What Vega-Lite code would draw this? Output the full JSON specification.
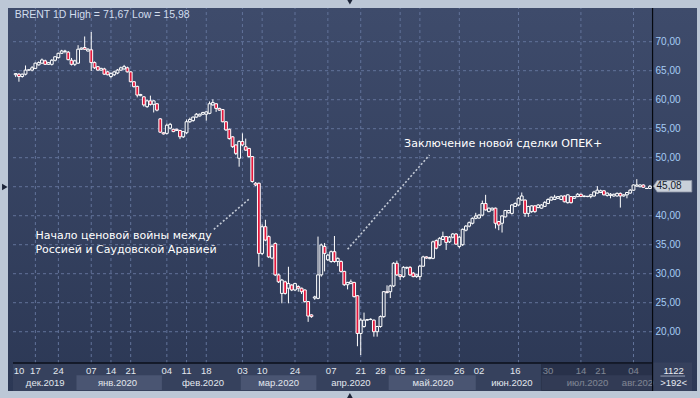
{
  "$schema": "https://vega.github.io/schema/vega-lite/v6.json",
  "width": 689,
  "height": 383,
  "autosize": "none",
  "padding": {"left": 8, "top": 8, "right": 3, "bottom": 7},
  "background": "#bcc7d6",
  "config": {
    "view": {"stroke": null, "fill": {"gradient": "linear", "x1": 0, "y1": 0, "x2": 0, "y2": 1, "stops": [{"offset": 0, "color": "#3e4b6b"}, {"offset": 1, "color": "#2c3855"}]}},
    "text": {"font": "Liberation Sans"}
  },
  "datasets": {
    "candles": [
      {"i":0,"o":64.3,"h":64.6,"l":63.9,"c":64.5},{"i":1,"o":64.4,"h":64.6,"l":63.1,"c":64.0},{"i":2,"o":64.0,"h":64.5,"l":63.8,"c":64.4},{"i":3,"o":64.4,"h":65.9,"l":64.2,"c":65.1},{"i":4,"o":65.1,"h":65.2,"l":65.0,"c":65.15},{"i":5,"o":65.1,"h":65.8,"l":64.9,"c":65.5},{"i":6,"o":65.4,"h":66.4,"l":65.3,"c":66.3},{"i":7,"o":66.0,"h":66.6,"l":65.9,"c":66.4},{"i":8,"o":66.3,"h":67.1,"l":66.2,"c":66.85},{"i":9,"o":66.7,"h":66.9,"l":66.0,"c":66.1},
      {"i":10,"o":66.1,"h":66.5,"l":66.0,"c":66.4},{"i":11,"o":66.1,"h":67.0,"l":65.9,"c":66.8},{"i":12,"o":66.8,"h":67.5,"l":66.6,"c":67.4},{"i":13,"o":67.25,"h":68.1,"l":67.1,"c":68.0},{"i":14,"o":68.0,"h":68.6,"l":67.9,"c":68.4},{"i":15,"o":68.3,"h":68.6,"l":68.0,"c":68.4},{"i":16,"o":68.2,"h":68.4,"l":66.8,"c":66.9},{"i":17,"o":66.8,"h":67.2,"l":65.9,"c":66.1},{"i":18,"o":66.1,"h":66.9,"l":65.8,"c":66.7},{"i":19,"o":66.3,"h":69.4,"l":66.2,"c":68.7},
      {"i":20,"o":68.7,"h":69.0,"l":68.6,"c":68.9},{"i":21,"o":69.0,"h":70.9,"l":68.6,"c":68.7},{"i":22,"o":68.4,"h":68.9,"l":68.3,"c":68.7},{"i":23,"o":68.6,"h":71.67,"l":64.95,"c":66.4},{"i":24,"o":66.4,"h":66.6,"l":65.3,"c":65.5},{"i":25,"o":65.7,"h":65.8,"l":65.0,"c":65.1},{"i":26,"o":65.1,"h":65.5,"l":65.0,"c":65.4},{"i":27,"o":65.3,"h":65.5,"l":64.3,"c":64.4},{"i":28,"o":64.8,"h":65.0,"l":64.2,"c":64.3},{"i":29,"o":64.0,"h":64.7,"l":63.7,"c":64.5},
      {"i":30,"o":64.3,"h":65.0,"l":64.1,"c":64.8},{"i":31,"o":64.6,"h":65.3,"l":64.4,"c":65.1},{"i":32,"o":65.1,"h":65.7,"l":65.0,"c":65.5},{"i":33,"o":65.3,"h":66.0,"l":65.2,"c":65.7},{"i":34,"o":65.5,"h":65.7,"l":64.7,"c":64.8},{"i":35,"o":64.8,"h":64.9,"l":63.0,"c":63.1},{"i":36,"o":63.1,"h":63.2,"l":62.1,"c":62.25},{"i":37,"o":62.3,"h":62.4,"l":60.4,"c":60.8},{"i":38,"o":60.7,"h":61.0,"l":60.6,"c":60.9},{"i":39,"o":60.5,"h":60.6,"l":58.8,"c":59.1},
      {"i":40,"o":58.8,"h":60.0,"l":58.6,"c":59.8},{"i":41,"o":59.8,"h":60.7,"l":59.0,"c":59.2},{"i":42,"o":59.2,"h":59.9,"l":57.8,"c":59.8},{"i":43,"o":59.3,"h":59.4,"l":58.0,"c":58.2},{"i":44,"o":56.7,"h":56.8,"l":54.3,"c":54.4},{"i":45,"o":54.3,"h":54.4,"l":54.0,"c":54.1},{"i":46,"o":54.2,"h":55.9,"l":54.0,"c":55.6},{"i":47,"o":55.1,"h":56.0,"l":54.9,"c":55.75},{"i":48,"o":54.9,"h":55.0,"l":54.4,"c":54.5},{"i":49,"o":54.9,"h":55.0,"l":54.6,"c":54.7},
      {"i":50,"o":54.7,"h":54.8,"l":53.2,"c":53.6},{"i":51,"o":53.6,"h":54.6,"l":53.4,"c":54.5},{"i":52,"o":54.3,"h":56.6,"l":54.1,"c":56.2},{"i":53,"o":56.2,"h":56.9,"l":56.0,"c":56.6},{"i":54,"o":56.4,"h":57.1,"l":56.2,"c":57.0},{"i":55,"o":57.0,"h":57.7,"l":56.9,"c":57.5},{"i":56,"o":57.2,"h":57.6,"l":57.1,"c":57.5},{"i":57,"o":57.5,"h":57.9,"l":57.4,"c":57.8},{"i":58,"o":57.5,"h":58.0,"l":56.4,"c":57.9},{"i":59,"o":57.65,"h":59.7,"l":57.5,"c":59.3},
      {"i":60,"o":59.1,"h":60.06,"l":59.0,"c":59.5},{"i":61,"o":59.3,"h":59.4,"l":57.9,"c":58.5},{"i":62,"o":58.5,"h":58.6,"l":58.1,"c":58.2},{"i":63,"o":58.3,"h":58.4,"l":56.1,"c":56.2},{"i":64,"o":56.2,"h":56.3,"l":54.6,"c":54.8},{"i":65,"o":54.9,"h":55.0,"l":53.1,"c":53.3},{"i":66,"o":53.6,"h":53.7,"l":51.7,"c":51.9},{"i":67,"o":52.2,"h":52.3,"l":50.46,"c":50.75},{"i":68,"o":49.9,"h":53.0,"l":48.45,"c":52.8},{"i":69,"o":52.8,"h":54.2,"l":52.0,"c":52.2},
      {"i":70,"o":51.9,"h":53.3,"l":51.2,"c":51.3},{"i":71,"o":51.6,"h":51.7,"l":50.0,"c":50.2},{"i":72,"o":50.2,"h":50.3,"l":45.7,"c":45.9},{"i":73,"o":45.6,"h":45.8,"l":45.1,"c":45.3},{"i":74,"o":45.6,"h":45.7,"l":31.2,"c":33.5},{"i":75,"o":33.5,"h":38.5,"l":33.2,"c":38.1},{"i":76,"o":38.1,"h":39.3,"l":35.6,"c":35.8},{"i":77,"o":36.4,"h":36.6,"l":32.7,"c":32.9},{"i":78,"o":32.7,"h":35.0,"l":32.5,"c":34.7},{"i":79,"o":35.2,"h":35.4,"l":29.6,"c":29.8},
      {"i":80,"o":29.8,"h":30.0,"l":28.4,"c":28.6},{"i":81,"o":26.6,"h":29.1,"l":24.9,"c":28.9},{"i":82,"o":28.6,"h":28.8,"l":26.4,"c":26.6},{"i":83,"o":27.5,"h":31.2,"l":24.9,"c":28.3},{"i":84,"o":28.05,"h":28.2,"l":27.0,"c":27.2},{"i":85,"o":27.2,"h":28.4,"l":27.0,"c":28.3},{"i":86,"o":27.8,"h":28.0,"l":26.9,"c":27.5},{"i":87,"o":27.5,"h":27.6,"l":26.5,"c":26.9},{"i":88,"o":27.2,"h":27.3,"l":25.0,"c":25.2},{"i":89,"o":25.2,"h":25.3,"l":21.7,"c":22.7},
      {"i":90,"o":22.9,"h":23.0,"l":22.4,"c":22.6},{"i":91,"o":25.8,"h":26.2,"l":25.5,"c":26.0},{"i":92,"o":25.75,"h":36.4,"l":25.6,"c":29.8},{"i":93,"o":29.8,"h":35.2,"l":29.5,"c":34.95},{"i":94,"o":34.7,"h":35.3,"l":30.4,"c":33.5},{"i":95,"o":32.4,"h":33.4,"l":32.2,"c":33.2},{"i":96,"o":32.1,"h":34.0,"l":31.9,"c":33.8},{"i":97,"o":33.8,"h":36.5,"l":31.9,"c":32.1},{"i":98,"o":32.1,"h":32.8,"l":31.3,"c":32.65},{"i":99,"o":32.1,"h":32.3,"l":30.2,"c":30.4},
      {"i":100,"o":30.4,"h":30.5,"l":27.9,"c":28.1},{"i":101,"o":28.1,"h":28.6,"l":27.3,"c":28.5},{"i":102,"o":28.3,"h":29.0,"l":28.2,"c":28.6},{"i":103,"o":28.5,"h":28.6,"l":25.9,"c":26.05},{"i":104,"o":26.2,"h":26.3,"l":17.5,"c":19.7},{"i":105,"o":19.7,"h":22.3,"l":15.98,"c":22.0},{"i":106,"o":20.9,"h":23.3,"l":20.7,"c":22.0},{"i":107,"o":22.0,"h":22.2,"l":21.9,"c":22.1},{"i":108,"o":22.1,"h":22.3,"l":22.0,"c":22.15},{"i":109,"o":22.0,"h":22.1,"l":19.15,"c":20.0},
      {"i":110,"o":20.0,"h":21.0,"l":19.15,"c":20.9},{"i":111,"o":20.9,"h":22.8,"l":20.7,"c":22.6},{"i":112,"o":22.6,"h":27.0,"l":22.4,"c":26.9},{"i":113,"o":26.9,"h":28.0,"l":26.6,"c":26.75},{"i":114,"o":26.9,"h":28.1,"l":25.8,"c":27.9},{"i":115,"o":27.9,"h":32.0,"l":27.7,"c":31.8},{"i":116,"o":31.8,"h":32.25,"l":29.6,"c":29.8},{"i":117,"o":29.8,"h":29.9,"l":28.9,"c":29.5},{"i":118,"o":29.5,"h":31.3,"l":29.3,"c":31.1},{"i":119,"o":31.0,"h":31.2,"l":30.8,"c":31.1},
      {"i":120,"o":31.1,"h":31.3,"l":29.6,"c":29.8},{"i":121,"o":30.1,"h":30.3,"l":29.4,"c":29.5},{"i":122,"o":29.5,"h":29.9,"l":29.3,"c":29.8},{"i":123,"o":29.5,"h":31.5,"l":28.9,"c":31.3},{"i":124,"o":31.3,"h":33.1,"l":31.2,"c":32.9},{"i":125,"o":32.9,"h":33.0,"l":32.6,"c":32.7},{"i":126,"o":32.6,"h":32.9,"l":32.5,"c":32.8},{"i":127,"o":32.65,"h":35.7,"l":32.5,"c":35.5},{"i":128,"o":35.7,"h":35.9,"l":34.2,"c":34.4},{"i":129,"o":34.95,"h":36.3,"l":34.8,"c":36.1},
      {"i":130,"o":35.9,"h":37.25,"l":35.8,"c":36.4},{"i":131,"o":36.4,"h":36.5,"l":34.1,"c":35.4},{"i":132,"o":35.5,"h":36.5,"l":35.3,"c":36.3},{"i":133,"o":36.3,"h":37.0,"l":36.1,"c":36.85},{"i":134,"o":36.85,"h":37.0,"l":35.0,"c":35.1},{"i":135,"o":34.7,"h":36.5,"l":34.4,"c":36.3},{"i":136,"o":35.0,"h":37.8,"l":34.8,"c":37.65},{"i":137,"o":37.5,"h":38.4,"l":37.3,"c":38.2},{"i":138,"o":38.2,"h":39.0,"l":38.0,"c":38.8},{"i":139,"o":38.7,"h":39.7,"l":38.5,"c":39.55},
      {"i":140,"o":39.55,"h":40.5,"l":39.4,"c":39.95},{"i":141,"o":39.6,"h":40.3,"l":39.5,"c":40.1},{"i":142,"o":40.1,"h":42.6,"l":39.9,"c":42.1},{"i":143,"o":42.1,"h":43.6,"l":40.9,"c":41.0},{"i":144,"o":40.7,"h":41.4,"l":40.6,"c":41.3},{"i":145,"o":41.0,"h":41.4,"l":40.9,"c":41.3},{"i":146,"o":41.3,"h":41.4,"l":37.8,"c":38.7},{"i":147,"o":39.0,"h":39.1,"l":37.5,"c":38.4},{"i":148,"o":38.7,"h":40.1,"l":37.1,"c":39.95},{"i":149,"o":39.8,"h":41.0,"l":39.7,"c":40.9},
      {"i":150,"o":40.5,"h":41.0,"l":40.4,"c":40.9},{"i":151,"o":40.4,"h":42.0,"l":40.2,"c":41.85},{"i":152,"o":41.6,"h":42.3,"l":41.5,"c":42.1},{"i":153,"o":41.85,"h":43.2,"l":41.7,"c":43.0},{"i":154,"o":42.7,"h":44.0,"l":42.6,"c":43.4},{"i":155,"o":42.7,"h":42.8,"l":39.8,"c":40.4},{"i":156,"o":40.4,"h":41.7,"l":39.8,"c":41.6},{"i":157,"o":40.7,"h":41.8,"l":40.5,"c":41.7},{"i":158,"o":41.7,"h":41.8,"l":40.5,"c":40.7},{"i":159,"o":41.4,"h":42.0,"l":41.3,"c":41.85},
      {"i":160,"o":41.3,"h":42.0,"l":41.2,"c":41.85},{"i":161,"o":41.6,"h":42.5,"l":41.5,"c":42.3},{"i":162,"o":42.1,"h":43.0,"l":42.0,"c":42.8},{"i":163,"o":42.7,"h":43.3,"l":42.6,"c":43.2},{"i":164,"o":42.8,"h":43.6,"l":42.7,"c":43.2},{"i":165,"o":43.0,"h":43.4,"l":42.9,"c":43.3},{"i":166,"o":42.8,"h":43.5,"l":42.7,"c":43.4},{"i":167,"o":43.4,"h":43.5,"l":42.3,"c":42.4},{"i":168,"o":42.25,"h":43.7,"l":42.1,"c":43.6},{"i":169,"o":43.3,"h":43.4,"l":42.1,"c":42.25},
      {"i":170,"o":43.0,"h":43.4,"l":42.9,"c":43.3},{"i":171,"o":43.3,"h":43.9,"l":43.2,"c":43.7},{"i":172,"o":43.7,"h":43.8,"l":43.2,"c":43.3},{"i":173,"o":43.3,"h":43.5,"l":43.2,"c":43.4},{"i":174,"o":43.35,"h":43.4,"l":43.2,"c":43.3},{"i":175,"o":43.3,"h":43.7,"l":43.0,"c":43.6},{"i":176,"o":43.4,"h":44.3,"l":43.3,"c":44.1},{"i":177,"o":43.9,"h":45.1,"l":43.8,"c":44.4},{"i":178,"o":44.0,"h":44.5,"l":43.9,"c":44.3},{"i":179,"o":44.3,"h":44.4,"l":43.5,"c":43.6},
      {"i":180,"o":43.5,"h":44.0,"l":43.3,"c":43.9},{"i":181,"o":43.5,"h":43.9,"l":43.0,"c":43.7},{"i":182,"o":43.4,"h":43.8,"l":43.3,"c":43.7},{"i":183,"o":43.4,"h":44.0,"l":43.3,"c":43.85},{"i":184,"o":43.85,"h":44.0,"l":41.4,"c":43.4},{"i":185,"o":43.4,"h":43.7,"l":43.3,"c":43.6},{"i":186,"o":43.6,"h":44.1,"l":43.0,"c":44.0},{"i":187,"o":43.9,"h":44.6,"l":43.8,"c":44.4},{"i":188,"o":44.4,"h":45.4,"l":44.3,"c":45.3},{"i":189,"o":45.1,"h":46.3,"l":45.0,"c":45.3},
      {"i":190,"o":45.0,"h":45.4,"l":44.9,"c":45.3},{"i":191,"o":45.3,"h":45.4,"l":44.8,"c":44.9},{"i":192,"o":44.7,"h":44.8,"l":44.6,"c":44.7},{"i":193,"o":44.7,"h":45.3,"l":44.6,"c":45.08}
    ],
    "days": [
      {"i":1,"t":"10"},{"i":6,"t":"17"},{"i":13,"t":"24"},{"i":23,"t":"07"},{"i":29,"t":"14"},{"i":35,"t":"21"},{"i":46,"t":"04"},{"i":52,"t":"11"},{"i":58,"t":"18"},{"i":69,"t":"03"},{"i":75,"t":"10"},{"i":85,"t":"24"},{"i":96,"t":"07"},{"i":105,"t":"21"},{"i":111,"t":"28"},{"i":117,"t":"05"},{"i":123,"t":"12"},{"i":135,"t":"26"},{"i":141,"t":"02"},{"i":152,"t":"16"},{"i":162,"t":"30"},{"i":172,"t":"14"},{"i":178,"t":"21"},{"i":188,"t":"04"}
    ],
    "vgrid": [{"i":6},{"i":13},{"i":23},{"i":29},{"i":35},{"i":46},{"i":52},{"i":58},{"i":69},{"i":75},{"i":85},{"i":95},{"i":105},{"i":117},{"i":123},{"i":135},{"i":153},{"i":172},{"i":188}],
    "hgrid": [{"v":20,"lab":"20,00"},{"v":25,"lab":"25,00"},{"v":30,"lab":"30,00"},{"v":35,"lab":"35,00"},{"v":40,"lab":"40,00"},{"v":45,"lab":"45,00"},{"v":50,"lab":"50,00"},{"v":55,"lab":"55,00"},{"v":60,"lab":"60,00"},{"v":65,"lab":"65,00"},{"v":70,"lab":"70,00"}],
    "months": [
      {"m":"дек.2019","mid":9},{"m":"янв.2020","mid":31},{"m":"фев.2020","mid":57},{"m":"мар.2020","mid":80},{"m":"апр.2020","mid":102},{"m":"май.2020","mid":127},{"m":"июн.2020","mid":151},{"m":"июл.2020","mid":174},{"m":"авг.2020","mid":190}
    ],
    "bands": [{"a":18.5,"b":44.5},{"a":68.5,"b":91.5},{"a":113.5,"b":140},{"a":160,"b":193.8}]
  },
  "layer": [
    {
      "data": {"values": [{}]},
      "mark": {"type": "rect", "color": "#36415d"},
      "encoding": {
        "x": {"datum": -0.81, "type": "quantitative", "scale": {"domain": [-0.81, 205.8], "nice": false, "zero": false}, "axis": null},
        "x2": {"datum": 205.8},
        "y": {"datum": 9.78, "type": "quantitative", "scale": {"domain": [9.78, 75.81], "nice": false, "zero": false}, "axis": null},
        "y2": {"datum": 14.6}
      }
    },
    {
      "data": {"name": "bands"},
      "mark": {"type": "rect", "color": "#4a5572"},
      "encoding": {
        "x": {"field": "a", "type": "quantitative", "scale": {"domain": [-0.81, 205.8], "nice": false, "zero": false}, "axis": null},
        "x2": {"field": "b"},
        "y": {"datum": 9.95, "type": "quantitative", "scale": {"domain": [9.78, 75.81], "nice": false, "zero": false}, "axis": null},
        "y2": {"datum": 12.5}
      }
    },
    {
      "data": {"name": "hgrid"},
      "mark": {"type": "rule", "color": "#62739a", "strokeDash": [3, 3], "strokeWidth": 1},
      "encoding": {
        "x": {"datum": -0.81, "type": "quantitative", "scale": {"domain": [-0.81, 205.8], "nice": false, "zero": false}, "axis": null},
        "x2": {"datum": 193.8},
        "y": {"field": "v", "type": "quantitative", "scale": {"domain": [9.78, 75.81], "nice": false, "zero": false}, "axis": null}
      }
    },
    {
      "data": {"name": "vgrid"},
      "mark": {"type": "rule", "color": "#62739a", "strokeDash": [3, 3], "strokeWidth": 1},
      "encoding": {
        "x": {"field": "i", "type": "quantitative", "scale": {"domain": [-0.81, 205.8], "nice": false, "zero": false}, "axis": null},
        "y": {"datum": 14.6, "type": "quantitative", "scale": {"domain": [9.78, 75.81], "nice": false, "zero": false}, "axis": null},
        "y2": {"datum": 75.81}
      }
    },
    {
      "data": {"name": "hgrid"},
      "transform": [{"filter": "datum.v != 45"}],
      "mark": {"type": "text", "color": "#a6ccf5", "font": "Liberation Sans", "fontSize": 10, "align": "left", "baseline": "middle"},
      "encoding": {
        "x": {"datum": 194.7, "type": "quantitative", "scale": {"domain": [-0.81, 205.8], "nice": false, "zero": false}, "axis": null},
        "y": {"field": "v", "type": "quantitative", "scale": {"domain": [9.78, 75.81], "nice": false, "zero": false}, "axis": null},
        "text": {"field": "lab"}
      }
    },
    {
      "data": {"name": "candles"},
      "mark": {"type": "rule", "color": "#ffffff", "strokeWidth": 1},
      "encoding": {
        "x": {"field": "i", "type": "quantitative", "scale": {"domain": [-0.81, 205.8], "nice": false, "zero": false}, "axis": null},
        "y": {"field": "l", "type": "quantitative", "scale": {"domain": [9.78, 75.81], "nice": false, "zero": false}, "axis": null},
        "y2": {"field": "h"}
      }
    },
    {
      "data": {"name": "candles"},
      "mark": {"type": "bar", "size": 2.8, "stroke": "#ffffff", "strokeWidth": 1},
      "encoding": {
        "x": {"field": "i", "type": "quantitative", "scale": {"domain": [-0.81, 205.8], "nice": false, "zero": false}, "axis": null},
        "y": {"field": "o", "type": "quantitative", "scale": {"domain": [9.78, 75.81], "nice": false, "zero": false}, "axis": null},
        "y2": {"field": "c"},
        "fill": {"condition": {"test": "datum.c < datum.o", "value": "#e3173c"}, "value": "#34415f"}
      }
    },
    {
      "data": {"values": [{}]},
      "mark": {"type": "rule", "color": "#0b0f1a", "strokeWidth": 1.5},
      "encoding": {
        "x": {"datum": -0.81, "type": "quantitative", "scale": {"domain": [-0.81, 205.8], "nice": false, "zero": false}, "axis": null},
        "x2": {"datum": 193.8},
        "y": {"datum": 14.6, "type": "quantitative", "scale": {"domain": [9.78, 75.81], "nice": false, "zero": false}, "axis": null}
      }
    },
    {
      "data": {"name": "days"},
      "mark": {"type": "text", "color": "#e2e7ee", "font": "Liberation Sans", "fontSize": 9.5, "align": "center", "baseline": "middle"},
      "encoding": {
        "x": {"field": "i", "type": "quantitative", "scale": {"domain": [-0.81, 205.8], "nice": false, "zero": false}, "axis": null},
        "y": {"datum": 13.3, "type": "quantitative", "scale": {"domain": [9.78, 75.81], "nice": false, "zero": false}, "axis": null},
        "text": {"field": "t"}
      }
    },
    {
      "data": {"name": "months"},
      "mark": {"type": "text", "color": "#e2e7ee", "font": "Liberation Sans", "fontSize": 9.5, "align": "center", "baseline": "middle"},
      "encoding": {
        "x": {"field": "mid", "type": "quantitative", "scale": {"domain": [-0.81, 205.8], "nice": false, "zero": false}, "axis": null},
        "y": {"datum": 11.2, "type": "quantitative", "scale": {"domain": [9.78, 75.81], "nice": false, "zero": false}, "axis": null},
        "text": {"field": "m"}
      }
    },
    {
      "data": {"values": [{}]},
      "mark": {"type": "rect", "color": "#1c2339", "opacity": 0.5, "stroke": "#1a2034", "strokeWidth": 1},
      "encoding": {
        "x": {"datum": 160, "type": "quantitative", "scale": {"domain": [-0.81, 205.8], "nice": false, "zero": false}, "axis": null},
        "x2": {"datum": 193.8},
        "y": {"datum": 9.9, "type": "quantitative", "scale": {"domain": [9.78, 75.81], "nice": false, "zero": false}, "axis": null},
        "y2": {"datum": 14.45}
      }
    },
    {
      "data": {"values": [{}]},
      "mark": {"type": "rect", "color": "#36415d"},
      "encoding": {
        "x": {"datum": 194.0, "type": "quantitative", "scale": {"domain": [-0.81, 205.8], "nice": false, "zero": false}, "axis": null},
        "x2": {"datum": 205.8},
        "y": {"datum": 9.78, "type": "quantitative", "scale": {"domain": [9.78, 75.81], "nice": false, "zero": false}, "axis": null},
        "y2": {"datum": 14.7}
      }
    },
    {
      "data": {"values": [{}]},
      "mark": {"type": "rule", "color": "#05080f", "strokeWidth": 1.2},
      "encoding": {
        "x": {"datum": 193.8, "type": "quantitative", "scale": {"domain": [-0.81, 205.8], "nice": false, "zero": false}, "axis": null},
        "y": {"datum": 9.78, "type": "quantitative", "scale": {"domain": [9.78, 75.81], "nice": false, "zero": false}, "axis": null},
        "y2": {"datum": 75.81}
      }
    },
    {
      "data": {"values": [{}]},
      "mark": {"type": "rule", "color": "#9aa4b8", "strokeWidth": 1},
      "encoding": {
        "x": {"datum": 196.2, "type": "quantitative", "scale": {"domain": [-0.81, 205.8], "nice": false, "zero": false}, "axis": null},
        "x2": {"datum": 203.7},
        "y": {"datum": 12.36, "type": "quantitative", "scale": {"domain": [9.78, 75.81], "nice": false, "zero": false}, "axis": null}
      }
    },
    {
      "data": {"values": [{}]},
      "mark": {"type": "text", "color": "#e8ecf2", "font": "Liberation Sans", "fontSize": 9.5, "align": "center", "baseline": "middle", "text": "1122"},
      "encoding": {
        "x": {"datum": 200.2, "type": "quantitative", "scale": {"domain": [-0.81, 205.8], "nice": false, "zero": false}, "axis": null},
        "y": {"datum": 13.22, "type": "quantitative", "scale": {"domain": [9.78, 75.81], "nice": false, "zero": false}, "axis": null}
      }
    },
    {
      "data": {"values": [{}]},
      "mark": {"type": "text", "color": "#e8ecf2", "font": "Liberation Sans", "fontSize": 9.5, "align": "center", "baseline": "middle", "text": ">192<"},
      "encoding": {
        "x": {"datum": 200.2, "type": "quantitative", "scale": {"domain": [-0.81, 205.8], "nice": false, "zero": false}, "axis": null},
        "y": {"datum": 11.1, "type": "quantitative", "scale": {"domain": [9.78, 75.81], "nice": false, "zero": false}, "axis": null}
      }
    },
    {
      "data": {"values": [{}]},
      "mark": {"type": "text", "color": "#d2ddee", "font": "Liberation Sans", "fontSize": 10.5, "align": "left", "baseline": "middle", "text": "BRENT 1D High = 71,67 Low = 15,98"},
      "encoding": {
        "x": {"datum": -0.3, "type": "quantitative", "scale": {"domain": [-0.81, 205.8], "nice": false, "zero": false}, "axis": null},
        "y": {"datum": 74.6, "type": "quantitative", "scale": {"domain": [9.78, 75.81], "nice": false, "zero": false}, "axis": null}
      }
    },
    {
      "data": {"values": [{}]},
      "mark": {"type": "rule", "color": "#c3cad6", "strokeWidth": 1.6, "strokeDash": [2, 2]},
      "encoding": {
        "x": {"datum": 60.3, "type": "quantitative", "scale": {"domain": [-0.81, 205.8], "nice": false, "zero": false}, "axis": null},
        "x2": {"datum": 71.3},
        "y": {"datum": 37.66, "type": "quantitative", "scale": {"domain": [9.78, 75.81], "nice": false, "zero": false}, "axis": null},
        "y2": {"datum": 43.0}
      }
    },
    {
      "data": {"values": [{}]},
      "mark": {"type": "rule", "color": "#c3cad6", "strokeWidth": 1.6, "strokeDash": [2, 2]},
      "encoding": {
        "x": {"datum": 101.0, "type": "quantitative", "scale": {"domain": [-0.81, 205.8], "nice": false, "zero": false}, "axis": null},
        "x2": {"datum": 125.9},
        "y": {"datum": 34.21, "type": "quantitative", "scale": {"domain": [9.78, 75.81], "nice": false, "zero": false}, "axis": null},
        "y2": {"datum": 50.47}
      }
    },
    {
      "data": {"values": [{}]},
      "mark": {"type": "text", "color": "#ffffff", "font": "DejaVu Sans", "fontSize": 11, "align": "left", "baseline": "alphabetic", "text": "Начало ценовой войны между"},
      "encoding": {
        "x": {"datum": 6.0, "type": "quantitative", "scale": {"domain": [-0.81, 205.8], "nice": false, "zero": false}, "axis": null},
        "y": {"datum": 35.93, "type": "quantitative", "scale": {"domain": [9.78, 75.81], "nice": false, "zero": false}, "axis": null}
      }
    },
    {
      "data": {"values": [{}]},
      "mark": {"type": "text", "color": "#ffffff", "font": "DejaVu Sans", "fontSize": 11, "align": "left", "baseline": "alphabetic", "text": "Россией и Саудовской Аравией"},
      "encoding": {
        "x": {"datum": 6.0, "type": "quantitative", "scale": {"domain": [-0.81, 205.8], "nice": false, "zero": false}, "axis": null},
        "y": {"datum": 33.52, "type": "quantitative", "scale": {"domain": [9.78, 75.81], "nice": false, "zero": false}, "axis": null}
      }
    },
    {
      "data": {"values": [{}]},
      "mark": {"type": "text", "color": "#ffffff", "font": "DejaVu Sans", "fontSize": 11, "align": "left", "baseline": "alphabetic", "text": "Заключение новой сделки ОПЕК+"},
      "encoding": {
        "x": {"datum": 118.2, "type": "quantitative", "scale": {"domain": [-0.81, 205.8], "nice": false, "zero": false}, "axis": null},
        "y": {"datum": 51.76, "type": "quantitative", "scale": {"domain": [9.78, 75.81], "nice": false, "zero": false}, "axis": null}
      }
    },
    {
      "data": {"values": [{}]},
      "mark": {"type": "point", "shape": "M-1,0L-0.8,-0.3L1,-0.3L1,0.3L-0.8,0.3Z", "size": 1475, "filled": true, "fill": "#c9d0da", "stroke": "#8d96a6", "strokeWidth": 0.8, "opacity": 1},
      "encoding": {
        "x": {"datum": 199.9, "type": "quantitative", "scale": {"domain": [-0.81, 205.8], "nice": false, "zero": false}, "axis": null},
        "y": {"datum": 45.08, "type": "quantitative", "scale": {"domain": [9.78, 75.81], "nice": false, "zero": false}, "axis": null}
      }
    },
    {
      "data": {"values": [{}]},
      "mark": {"type": "text", "color": "#141a28", "font": "Liberation Sans", "fontSize": 10, "align": "left", "baseline": "middle", "text": "45,08"},
      "encoding": {
        "x": {"datum": 195.0, "type": "quantitative", "scale": {"domain": [-0.81, 205.8], "nice": false, "zero": false}, "axis": null},
        "y": {"datum": 45.08, "type": "quantitative", "scale": {"domain": [9.78, 75.81], "nice": false, "zero": false}, "axis": null}
      }
    },
    {
      "data": {"values": [{}]},
      "mark": {"type": "point", "shape": "triangle-down", "size": 40, "filled": true, "color": "#1c2438", "opacity": 1},
      "encoding": {
        "x": {"datum": 101.7, "type": "quantitative", "scale": {"domain": [-0.81, 205.8], "nice": false, "zero": false}, "axis": null},
        "y": {"datum": 76.9, "type": "quantitative", "scale": {"domain": [9.78, 75.81], "nice": false, "zero": false}, "axis": null}
      }
    },
    {
      "data": {"values": [{}]},
      "mark": {"type": "point", "shape": "triangle-up", "size": 40, "filled": true, "color": "#1c2438", "opacity": 1},
      "encoding": {
        "x": {"datum": 101.7, "type": "quantitative", "scale": {"domain": [-0.81, 205.8], "nice": false, "zero": false}, "axis": null},
        "y": {"datum": 8.95, "type": "quantitative", "scale": {"domain": [9.78, 75.81], "nice": false, "zero": false}, "axis": null}
      }
    },
    {
      "data": {"values": [{}]},
      "mark": {"type": "point", "shape": "triangle-right", "size": 40, "filled": true, "color": "#1c2438", "opacity": 1},
      "encoding": {
        "x": {"datum": -3.3, "type": "quantitative", "scale": {"domain": [-0.81, 205.8], "nice": false, "zero": false}, "axis": null},
        "y": {"datum": 44.95, "type": "quantitative", "scale": {"domain": [9.78, 75.81], "nice": false, "zero": false}, "axis": null}
      }
    }
  ]
}
